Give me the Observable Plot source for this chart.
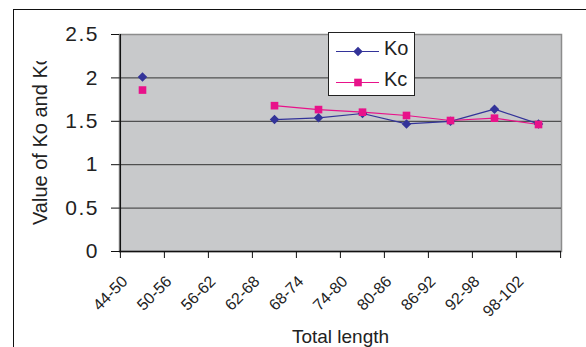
<!DOCTYPE html>
<html><head><meta charset="utf-8">
<script src="https://cdn.jsdelivr.net/npm/d3@7"></script>
<script src="https://cdn.jsdelivr.net/npm/@observablehq/plot@0.6"></script>
<style>
body{margin:0;background:#fff;overflow:hidden;}
#wrap{position:relative;width:586px;height:347px;overflow:hidden;font-family:"Liberation Sans",Arial,sans-serif;color:#222;}
#border{position:absolute;left:13px;top:9px;width:700px;height:500px;border:1.5px solid #111;}
#chart{position:absolute;left:0;top:0;}
#legend{position:absolute;left:328px;top:32px;width:87px;height:64px;background:#fff;border:1px solid #222;box-sizing:border-box;}
.lrow{position:absolute;left:0;width:85px;height:20px;}
.lrow svg{max-width:none !important;}
.lrow span{position:absolute;left:55px;top:-5px;font-size:20px;line-height:24px;}
g[aria-label="y-axis tick label"] text{letter-spacing:1.5px;}
</style></head><body>
<div id="wrap"><div id="border"></div><div id="chart"></div><div id="legend"></div></div>
<script>
const categories = ["44-50","50-56","56-62","62-68","68-74","74-80","80-86","86-92","92-98","98-102"];
const koValues = [2.01, null, null, 1.52, 1.54, 1.59, 1.47, 1.50, 1.64, 1.47];
const kcValues = [1.86, null, null, 1.68, 1.635, 1.605, 1.567, 1.509, 1.536, 1.463];
const yTicks = [0, 0.5, 1, 1.5, 2, 2.5];
const gridValues = [0.5, 1, 1.5, 2];
const seriesNames = ["Ko", "Kc"];
const seriesColors = ["#333399", "#e8128a"];
const seriesSymbols = ["diamond2", "square"];
const xTitle = "Total length";
const yTitle = "Value of Ko and Kc";

const W = 586, H = 347, mL = 119, mR = 25, mT = 34, mB = 96;
const bw = (W - mL - mR) / categories.length;

const rows = [];
categories.forEach((c, i) => {
  rows.push({cat: c, series: "Ko", value: koValues[i]});
  rows.push({cat: c, series: "Kc", value: kcValues[i]});
});
const ko = rows.filter(d => d.series === "Ko");
const kc = rows.filter(d => d.series === "Kc");

const chart = Plot.plot({
  width: W, height: H,
  marginLeft: mL, marginRight: mR, marginTop: mT, marginBottom: mB,
  style: {fontFamily: '"Liberation Sans", Arial, sans-serif', color: "#222", background: "transparent", overflow: "visible"},
  x: {type: "band", domain: categories, padding: 0, axis: null},
  y: {domain: [0, 2.5], axis: null},
  marks: [
    Plot.frame({fill: "#c8c9cb", stroke: "#8c8c8c", strokeWidth: 1.5}),
    Plot.ruleY(gridValues, {stroke: "#333", strokeWidth: 1}),
    Plot.ruleY([0], {stroke: "#111", strokeWidth: 1.3}),
    Plot.ruleX([categories[0]], {dx: -bw / 2, stroke: "#111", strokeWidth: 1.3}),
    Plot.axisY({ticks: yTicks, label: null, tickSize: 8, tickPadding: 12.5, fontSize: 21, stroke: "#111", fill: "#222", tickFormat: d => String(d)}),
    Plot.axisX({ticks: categories, label: null, tickSize: 7, dx: -bw / 2, tickFormat: () => "", stroke: "#111"}),
    Plot.axisX({ticks: [categories[categories.length - 1]], label: null, tickSize: 7, dx: bw / 2, tickFormat: () => "", stroke: "#111"}),
    Plot.text(categories, {x: d => d, frameAnchor: "bottom", rotate: -45, textAnchor: "end", lineAnchor: "bottom", dx: -14, dy: 31, fontSize: 16, fill: "#222"}),
    Plot.text([xTitle], {frameAnchor: "bottom", lineAnchor: "bottom", dy: 91, fontSize: 19, fill: "#222"}),
    Plot.line(ko, {x: "cat", y: "value", stroke: seriesColors[0], strokeWidth: 1.2}),
    Plot.line(kc, {x: "cat", y: "value", stroke: seriesColors[1], strokeWidth: 1.2}),
    Plot.dot(ko, {x: "cat", y: "value", symbol: seriesSymbols[0], r: 4.3, fill: seriesColors[0], stroke: "none"}),
    Plot.dot(kc, {x: "cat", y: "value", symbol: seriesSymbols[1], r: 4.3, fill: seriesColors[1], stroke: "none"})
  ]
});
document.getElementById("chart").appendChild(chart);

// clipped y-axis title (the reference cuts it off at the top)
const svg = d3.select(chart);
svg.append("defs").append("clipPath").attr("id", "yclip")
  .append("rect").attr("x", 0).attr("y", 61).attr("width", 100).attr("height", 250);
svg.append("g").attr("clip-path", "url(#yclip)")
  .append("text")
  .attr("transform", "translate(47,225) rotate(-90)")
  .attr("text-anchor", "start")
  .attr("font-size", 20).attr("fill", "#222")
  .attr("font-family", '"Liberation Sans", Arial, sans-serif')
  .text(yTitle);

// legend
const legend = document.getElementById("legend");
seriesNames.forEach((name, i) => {
  const row = document.createElement("div");
  row.className = "lrow";
  row.style.top = (i === 0 ? 8 : 39) + "px";
  const sym = Plot.plot({
    width: 50, height: 20, margin: 0,
    x: {domain: [0, 1], axis: null}, y: {domain: [0, 1], axis: null},
    style: {background: "transparent", overflow: "visible"},
    marks: [
      Plot.ruleY([0.5], {x1: 0.14, x2: 1, stroke: seriesColors[i], strokeWidth: 1.2}),
      Plot.dot([{x: 0.57, y: 0.5}], {x: "x", y: "y", symbol: seriesSymbols[i], r: 4.3, fill: seriesColors[i]})
    ]
  });
  sym.style.position = "absolute"; sym.style.left = "0px"; sym.style.top = "0px";
  sym.style.maxWidth = "none"; sym.style.width = "50px"; sym.style.height = "20px";
  row.appendChild(sym);
  const t = document.createElement("span");
  t.textContent = name;
  row.appendChild(t);
  legend.appendChild(row);
});
</script>
</body></html>
